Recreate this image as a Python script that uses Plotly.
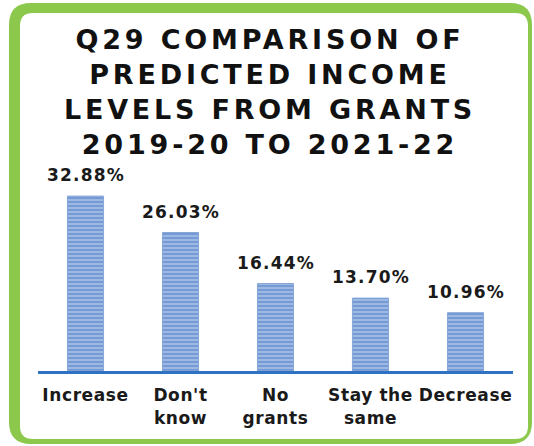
import plotly.graph_objects as go

# Survey responses (share of respondents, %)
categories = ["Increase", "Don't know", "No grants", "Stay the same", "Decrease"]
tick_labels = ["Increase", "Don't<br>know", "No<br>grants", "Stay the<br>same", "Decrease"]
shares = [32.88, 26.03, 16.44, 13.70, 10.96]
title_lines = ["Q29 COMPARISON OF", "PREDICTED INCOME", "LEVELS FROM GRANTS", "2019-20 TO 2021-22"]

W, H = 534, 446
ML, MR, MT, MB = 38, 21, 160, 75
PW, PH = W - ML - MR, H - MT - MB
FONT = "DejaVu Sans, Verdana, sans-serif"


def spaced(txt, px):
    return f'<span style="letter-spacing:{px}px">{txt}</span>'


def to_paper(px, py):
    return (px - ML) / PW, (H - MB - py) / PH


def rounded_rect(x0, y0, x1, y1, r):
    # rounded rectangle path in paper coordinates from pixel corners
    def P(px, py):
        xp, yp = to_paper(px, py)
        return f"{xp:.5f},{yp:.5f}"
    return (f"M {P(x0 + r, y0)} L {P(x1 - r, y0)} Q {P(x1, y0)} {P(x1, y0 + r)} "
            f"L {P(x1, y1 - r)} Q {P(x1, y1)} {P(x1 - r, y1)} "
            f"L {P(x0 + r, y1)} Q {P(x0, y1)} {P(x0, y1 - r)} "
            f"L {P(x0, y0 + r)} Q {P(x0, y0)} {P(x0 + r, y0)} Z")


fig = go.Figure(
    go.Bar(
        x=categories,
        y=shares,
        width=0.38,
        marker=dict(
            color="#9fbbe6",
            line=dict(color="#86a6d6", width=1),
            pattern=dict(shape="-", fgcolor="#4674bd", bgcolor="#a6c0e8",
                         size=4, solidity=0.6),
        ),
        hoverinfo="skip",
    )
)

# value labels above bars
for c, v in zip(categories, shares):
    fig.add_annotation(
        x=c, y=v, text=spaced(f"{v:.2f}%", 1.2), showarrow=False,
        yanchor="bottom", yshift=9,
        font=dict(family=FONT, size=17, color="#1a1a1a", weight="bold"),
    )

# green rounded frame
fig.add_shape(type="path", xref="paper", yref="paper", layer="below",
              path=rounded_rect(9, 3, 532, 444, 22),
              fillcolor="#8cc84b", line=dict(width=0))
fig.add_shape(type="path", xref="paper", yref="paper", layer="below",
              path=rounded_rect(20, 13, 528, 439, 13),
              fillcolor="#ffffff", line=dict(width=0))

fig.update_layout(
    width=W, height=H,
    margin=dict(l=ML, r=MR, t=MT, b=MB),
    paper_bgcolor="#ffffff",
    plot_bgcolor="rgba(0,0,0,0)",
    showlegend=False,
    title=dict(
        text="<br>".join(spaced(t, 3.8) for t in title_lines),
        x=270 / W, xanchor="center",
        y=1 - 49 / H, yanchor="middle",
        font=dict(family=FONT, size=27, color="#111111", weight="bold"),
    ),
    xaxis=dict(
        tickmode="array", tickvals=categories,
        ticktext=[spaced(t, 0.6) for t in tick_labels],
        tickfont=dict(family=FONT, size=17, color="#1a1a1a", weight="bold"),
        showline=True, linecolor="#2f72c4", linewidth=3,
        showgrid=False, zeroline=False, ticks="",
        ticklabelstandoff=7,
    ),
    yaxis=dict(range=[0, PH / 5.32], visible=False, fixedrange=True),
)

fig.write_html("out.html")
